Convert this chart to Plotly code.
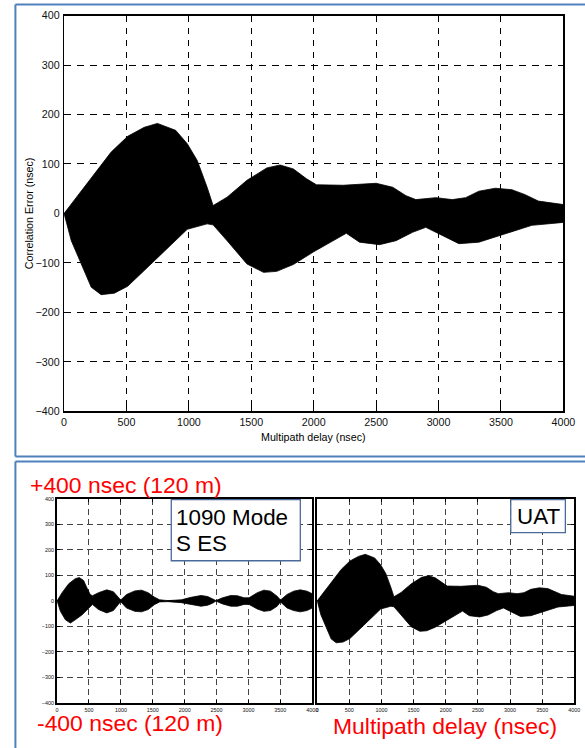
import plotly.graph_objects as go

# ---------------- data ----------------
# UAT correlation error envelope (nsec) vs multipath delay (nsec)
uat_delay_upper = [0, 138, 297, 377, 510, 642, 748, 894, 987, 1067, 1146, 1194, 1306, 1465, 1624, 1730,
                   1837, 1943, 2022, 2235, 2500, 2633, 2739, 2818, 2978, 3110, 3217, 3323, 3455, 3588,
                   3694, 3800, 4000]
uat_upper = [0, 46, 97, 124, 156, 174, 182, 168, 141, 107, 53, 16, 33, 67, 92, 98,
             90, 70, 58, 57, 61, 53, 36, 28, 32, 28, 32, 45, 51, 48,
             38, 25, 18]
uat_delay_lower = [0, 58, 138, 218, 297, 403, 510, 722, 987, 1146, 1194, 1306, 1465, 1598, 1704, 1837,
                   1996, 2261, 2367, 2527, 2659, 2792, 2898, 3004, 3163, 3323, 3508, 3747, 4000]
uat_lower = [0, -55, -102, -149, -164, -161, -147, -96, -32, -21, -23, -55, -102, -119, -117, -103,
             -78, -40, -58, -63, -55, -38, -28, -41, -61, -58, -44, -24, -18]

# 1090 Mode S ES correlation error envelope (nsec)
es_delay_upper = [0, 78, 182, 285, 348, 415, 467, 519, 555, 649, 778, 882, 960, 996, 1089, 1219, 1323,
                  1427, 1530, 1608, 1738, 1946, 2101, 2257, 2361, 2438, 2490, 2594, 2724, 2827, 2931,
                  3009, 3139, 3243, 3346, 3450, 3502, 3606, 3709, 3813, 3917, 4000]
es_upper = [0, 32, 67, 87, 91, 80, 51, 25, 20, 32, 43, 36, 14, 3, 25, 39, 42,
            32, 14, 4, 1, 4, 14, 21, 17, 8, 1, 12, 21, 20, 12,
            12, 32, 42, 38, 18, 3, 25, 38, 43, 38, 28]
es_delay_lower = [0, 52, 130, 208, 285, 389, 493, 555, 649, 778, 882, 960, 996, 1089, 1219, 1323,
                  1427, 1530, 1608, 1738, 1946, 2101, 2257, 2361, 2438, 2490, 2594, 2724, 2827, 2931,
                  3009, 3139, 3243, 3346, 3450, 3502, 3606, 3709, 3813, 3917, 4000]
es_lower = [0, -41, -74, -87, -74, -55, -28, -14, -34, -47, -38, -14, -3, -28, -41, -43,
            -34, -14, -4, -3, -7, -14, -21, -17, -9, -1, -12, -21, -21, -14,
            -14, -32, -41, -38, -21, -4, -28, -38, -43, -38, -28]

x_ticks = [0, 500, 1000, 1500, 2000, 2500, 3000, 3500, 4000]
y_ticks = [-400, -300, -200, -100, 0, 100, 200, 300, 400]

# ---------------- layout helpers ----------------
# the capture shrinks the page slightly, so the figure is laid out a little larger
S = 0.982
OX, OY = 0.5, 6.5
FW, FH = 596, 762
def px(x):
    return ((x - OX) / S) / FW
def py(y):
    return 1 - ((y - OY) / S) / FH
def fs(v):
    return round(v / S, 2)

FONT = "Liberation Sans, Arial, Helvetica, sans-serif"
BLUE = "#4f81bd"

def band(xu, yu, xl, yl):
    return list(xu) + list(xl)[::-1], list(yu) + list(yl)[::-1]

fig = go.Figure()

bx, by = band(uat_delay_upper, uat_upper, uat_delay_lower, uat_lower)
fig.add_trace(go.Scatter(x=bx, y=by, fill="toself", fillcolor="black", mode="lines",
                         line=dict(color="black", width=0.8), xaxis="x", yaxis="y",
                         hoverinfo="skip", showlegend=False))
bx2, by2 = band(es_delay_upper, es_upper, es_delay_lower, es_lower)
fig.add_trace(go.Scatter(x=bx2, y=by2, fill="toself", fillcolor="black", mode="lines",
                         line=dict(color="black", width=0.8), xaxis="x2", yaxis="y2",
                         hoverinfo="skip", showlegend=False))
fig.add_trace(go.Scatter(x=bx, y=by, fill="toself", fillcolor="black", mode="lines",
                         line=dict(color="black", width=0.8), xaxis="x3", yaxis="y3",
                         hoverinfo="skip", showlegend=False))

def axis_common(size, lw, gridcolor, dash, ticklen):
    return dict(showline=True, linecolor="black", linewidth=lw, mirror="ticks",
                ticks="inside", ticklen=ticklen, tickcolor="black", tickwidth=1,
                showgrid=True, gridcolor=gridcolor, gridwidth=1, griddash=dash,
                zeroline=False, tickfont=dict(family=FONT, size=fs(size), color="#111"))

top_x = axis_common(10.5, 1.3, "black", "6px,6px", 5)
top_x.update(domain=[px(62), px(565)], range=[0, 4000], tickvals=x_ticks, anchor="y")
top_y = axis_common(10.5, 1.3, "black", "7px,6px", 5)
top_y.update(domain=[py(411), py(16)], range=[-400, 400], tickvals=y_ticks, anchor="x",
             ticklabelstandoff=1)

bl_x = axis_common(5.3, 2, "#444", "6px,4px", 3)
bl_x.update(domain=[px(55), px(312)], range=[0, 4000], tickvals=x_ticks, anchor="y2")
bl_y = axis_common(5.3, 2, "#444", "6px,4px", 3)
bl_y.update(domain=[py(702), py(498)], range=[-400, 400], tickvals=y_ticks, anchor="x2")

br_x = axis_common(5.3, 2, "#444", "6px,4px", 3)
br_x.update(domain=[px(317), px(576)], range=[0, 4000], tickvals=x_ticks, anchor="y3")
br_y = axis_common(5.3, 2, "#444", "6px,4px", 3)
br_y.update(domain=[py(702), py(498)], range=[-400, 400], tickvals=y_ticks, anchor="x3",
            showticklabels=False)

def pline(x0, y0, x1, y1, color=BLUE, width=2):
    return dict(type="line", xref="paper", yref="paper", x0=x0, y0=y0, x1=x1, y1=y1,
                line=dict(color=color, width=width), layer="above")

shapes = [
    # blue slide frames (right and bottom edges lie outside the picture)
    pline(px(13), py(5), 1.1, py(5)),
    pline(px(13), py(5), px(13), py(456)),
    pline(px(13), py(456), 1.1, py(456)),
    pline(px(13), py(461), 1.1, py(461)),
    pline(px(13), py(461), px(13), -0.1),
    # label boxes
    dict(type="rect", xref="paper", yref="paper", x0=px(170), x1=px(300), y0=py(560), y1=py(499),
         line=dict(color="#4a6a9c", width=1.3), fillcolor="white", layer="above"),
    dict(type="rect", xref="paper", yref="paper", x0=px(512), x1=px(567), y0=py(532), y1=py(499),
         line=dict(color="#4a6a9c", width=1.3), fillcolor="white", layer="above"),
]

def ann(text, x, y, size, color="black", xanchor="center", angle=0):
    return dict(text=text, xref="paper", yref="paper", x=px(x), y=py(y), showarrow=False,
                xanchor=xanchor, yanchor="middle", textangle=angle, borderpad=0,
                font=dict(family=FONT, size=fs(size), color=color))

annotations = [
    ann("Multipath delay (nsec)", 313, 437, 10.5),
    ann("Correlation Error (nsec)", 27, 213, 10.5, angle=-90),
    ann("+400 nsec (120 m)", 27, 484, 22.5, color="red", xanchor="left"),
    ann("-400 nsec (120 m)", 34, 722, 22.5, color="red", xanchor="left"),
    ann("Multipath delay (nsec)", 332, 725, 22.5, color="red", xanchor="left"),
    ann("1090 Mode", 174, 517, 22, xanchor="left"),
    ann("S ES", 174, 543, 22, xanchor="left"),
    ann("UAT", 539.5, 516, 22),
]

fig.update_layout(
    width=FW, height=FH, autosize=False, margin=dict(l=0, r=0, t=0, b=0, pad=0),
    paper_bgcolor="white", plot_bgcolor="white", showlegend=False,
    xaxis=top_x, yaxis=top_y, xaxis2=bl_x, yaxis2=bl_y, xaxis3=br_x, yaxis3=br_y,
    shapes=shapes, annotations=annotations,
)

fig.write_html(
    "out.html",
    config={"responsive": False, "displayModeBar": False, "staticPlot": True},
    post_script="document.body.style.margin='0';document.body.style.padding='0';"
                "document.documentElement.style.overflow='hidden';"
                "document.body.style.overflow='hidden';",
)
